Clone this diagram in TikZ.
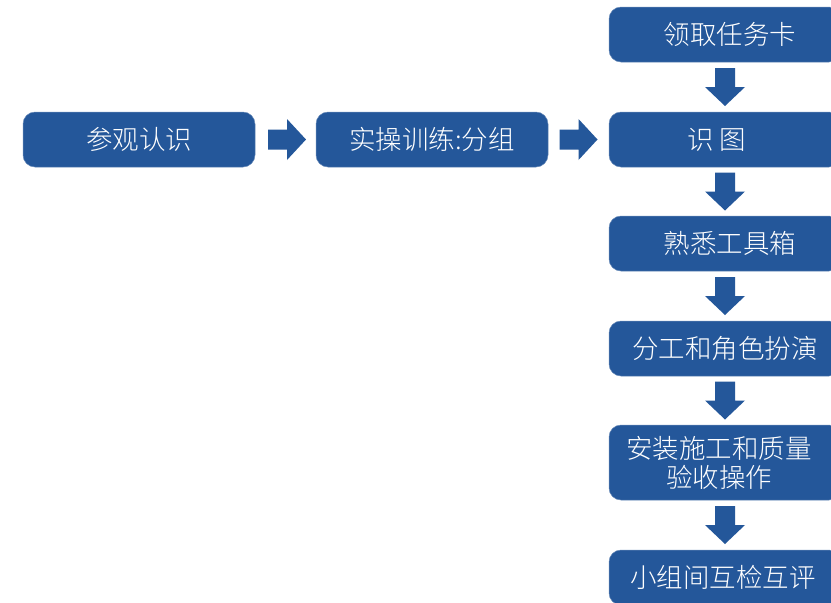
\documentclass[tikz,border=0pt]{standalone}
\usepackage{fontspec}
\setmainfont{Noto Sans CJK SC Light}
\usetikzlibrary{calc}
\definecolor{boxblue}{RGB}{36,87,154}
\tikzset{
  box/.style={fill=boxblue, draw=boxblue!70!white, line width=0.5pt, rounded corners=12pt,
    minimum width=232pt, minimum height=55pt, inner sep=0pt, align=center, text=white,
    font=\fontsize{26.5}{30}\selectfont},
  tallbox/.style={box, minimum height=75pt},
  harr/.pic={\fill[boxblue] (-19,-10) -- (0,-10) -- (0,-20.5) -- (19,0) -- (0,20.5) -- (0,10) -- (-19,10) -- cycle;},
  varr/.pic={\fill[boxblue] (-10,-19) -- (-10,0) -- (-20,0) -- (0,19) -- (20,0) -- (10,0) -- (10,-19) -- cycle;}
}
\begin{document}
\begin{tikzpicture}[x=1pt, y=-1pt]
\clip (0,0) rectangle (831,603);
\fill[white] (0,0) rectangle (831,603);
\node[box] (b1) at (139,139.5) {参观认识};
\node[box] (b2) at (432,139.5) {实操训练:分组};
\node[box] (r1) at (725,34.5) {\kern10pt领取任务卡};
\node[box] (r2) at (725,139.5) {识\kern6pt图\kern16pt};
\node[box] (r3) at (725,243.5) {\kern10pt熟悉工具箱};
\node[box] (r4) at (725,348.5) {分工和角色扮演};
\node[tallbox] (r5) at (725,462.5) {\raisebox{-2pt}{安装施工和质量\kern12pt}\\[-1pt]\raisebox{-2pt}{验收操作\kern12pt}};
\node[box] (r6) at (725,577.5) {小组间互检互评\kern4pt};
\pic at ($(b1.east)!0.5!(b2.west)+(1.5,0)$) {harr};
\pic at ($(b2.east)!0.5!(r2.west)$) {harr};
\pic at ($(r1.south)!0.5!(r2.north)$) {varr};
\pic at ($(r2.south)!0.5!(r3.north)$) {varr};
\pic at ($(r3.south)!0.5!(r4.north)$) {varr};
\pic at ($(r4.south)!0.5!(r5.north)$) {varr};
\pic at ($(r5.south)!0.5!(r6.north)$) {varr};
\end{tikzpicture}
\end{document}
